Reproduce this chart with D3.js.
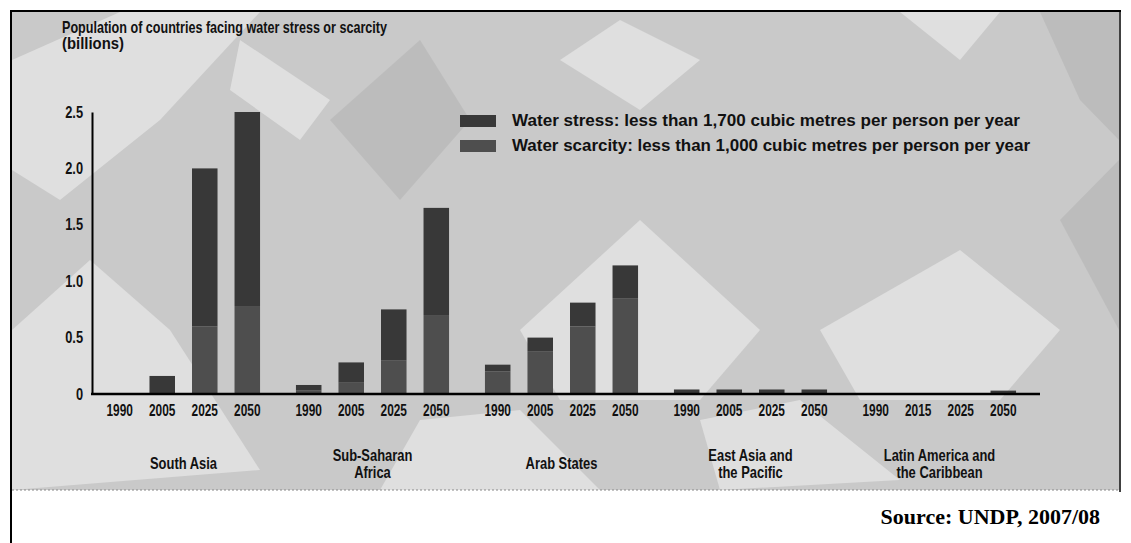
<!DOCTYPE html>
<html><head><meta charset="utf-8">
<script src="https://cdn.jsdelivr.net/npm/d3@7"></script>
<style>body{margin:0;background:#fff}svg{display:block}</style>
</head><body>
<svg id="c" width="1131" height="543"></svg>
<script>
const regions = ["South Asia","Sub-Saharan Africa","Arab States","East Asia and the Pacific","Latin America and the Caribbean"];
const regionLines = [["South Asia"],["Sub-Saharan","Africa"],["Arab States"],["East Asia and","the Pacific"],["Latin America and","the Caribbean"]];
const years = ["1990","2005","2025","2050"];
const yearLabels = [["1990","2005","2025","2050"],["1990","2005","2025","2050"],["1990","2005","2025","2050"],["1990","2005","2025","2050"],["1990","2015","2025","2050"]];
// billions, per region, per year
const scarcity = [[0,0,0.6,0.78],[0.03,0.1,0.3,0.7],[0.2,0.38,0.6,0.85],[0,0,0,0],[0,0,0,0]];
const stress = [[0,0.16,1.4,1.72],[0.05,0.18,0.45,0.95],[0.06,0.12,0.21,0.29],[0.04,0.04,0.04,0.04],[0,0,0,0.03]];
const yTicks = [0,0.5,1.0,1.5,2.0,2.5];
const yTickLabels = ["0","0.5","1.0","1.5","2.0","2.5"];
const title = ["Population of countries facing water stress or scarcity","(billions)"];
const legendItems = [["stress","Water stress: less than 1,700 cubic metres per person per year"],["scarcity","Water scarcity: less than 1,000 cubic metres per person per year"]];
const source = "Source: UNDP, 2007/08";

const font = "'Liberation Sans',Arial,sans-serif";
const colors = {stress:"#383838", scarcity:"#4e4e4e"};
const svg = d3.select("#c");

function narrow(sel, factor){
  sel.each(function(){
    const w = this.getComputedTextLength();
    d3.select(this).attr("textLength", w*factor).attr("lengthAdjust","spacingAndGlyphs");
  });
}

// background panel
const panel = svg.append("g");
panel.append("rect").attr("x",12).attr("y",12).attr("width",1107).attr("height",478).attr("fill","#c9c9c9");
const whites = [
 [[12,60],[120,12],[260,12],[160,120],[60,200],[12,170]],
 [[12,330],[90,260],[170,330],[260,470],[12,490]],
 [[520,330],[640,220],[760,330],[700,400],[560,400]],
 [[240,40],[330,100],[300,140],[230,90]],
 [[820,330],[960,250],[1060,330],[1000,400],[860,400]],
 [[560,60],[620,20],[700,60],[640,110]],
 [[700,420],[800,400],[900,480],[720,490]],
 [[420,420],[520,410],[600,490],[380,490]],
 [[900,12],[1000,12],[960,60]]
];
panel.selectAll("polygon.w").data(whites).join("polygon").attr("class","w")
 .attr("points",d=>d.map(p=>p.join(",")).join(" ")).attr("fill","#f0f0f0").attr("opacity",0.55);
const darks = [[[1040,12],[1119,12],[1119,140],[1080,100]],[[1060,220],[1119,160],[1119,330]],[[330,120],[420,40],[470,120],[400,200]]];
panel.selectAll("polygon.d").data(darks).join("polygon").attr("class","d")
 .attr("points",d=>d.map(p=>p.join(",")).join(" ")).attr("fill","#b0b0b0").attr("opacity",0.5);

// frame
svg.append("line").attr("x1",10).attr("x2",1121).attr("y1",11).attr("y2",11).attr("stroke","#000").attr("stroke-width",2);
svg.append("line").attr("x1",11).attr("x2",11).attr("y1",10).attr("y2",543).attr("stroke","#000").attr("stroke-width",2);
svg.append("line").attr("x1",1120).attr("x2",1120).attr("y1",10).attr("y2",492).attr("stroke","#000").attr("stroke-width",1.5);
svg.append("line").attr("x1",12).attr("x2",1119).attr("y1",490).attr("y2",490).attr("stroke","#888").attr("stroke-width",1).attr("stroke-dasharray","2,2");

// scales
const y = d3.scaleLinear().domain([0,2.5]).range([394,112]);
const x0 = d3.scaleBand().domain(regions).range([89,1034]).paddingInner(0.1).paddingOuter(0.05);
const x1 = d3.scaleBand().domain(years).range([0,x0.bandwidth()]).paddingInner(0.4).paddingOuter(0.2);

// title
svg.append("g").selectAll("text").data(title).join("text")
 .attr("x",62).attr("y",(d,i)=>33+i*16).attr("font-family",font).attr("font-weight","bold")
 .attr("font-size",16.5).attr("fill","#111").text(d=>d)
 .attr("textLength",(d,i)=>i===0?325:62).attr("lengthAdjust","spacingAndGlyphs");

// bars
const data = [];
regions.forEach((r,ri)=>years.forEach((yr,yi)=>{
  const sc = scarcity[ri][yi], st = stress[ri][yi];
  data.push({r,yr,key:"scarcity",y0:0,y1:sc});
  data.push({r,yr,key:"stress",y0:sc,y1:sc+st});
}));
svg.append("g").selectAll("rect").data(data.filter(d=>d.y1>d.y0)).join("rect")
 .attr("x",d=>x0(d.r)+x1(d.yr)).attr("width",x1.bandwidth())
 .attr("y",d=>y(d.y1)).attr("height",d=>y(d.y0)-y(d.y1))
 .attr("fill",d=>colors[d.key]);

// y axis
const ya = svg.append("g").attr("transform","translate(92,0)")
 .call(d3.axisLeft(y).tickValues(yTicks).tickFormat((d,i)=>yTickLabels[i]).tickSize(0).tickPadding(9));
ya.select(".domain").attr("stroke","#000").attr("stroke-width",2);
ya.selectAll("text").attr("font-family",font).attr("font-weight","bold").attr("font-size",16).attr("fill","#111");
narrow(ya.selectAll("text"),0.8);

// x baseline
svg.append("line").attr("x1",91).attr("x2",1040).attr("y1",y(0)).attr("y2",y(0)).attr("stroke","#000").attr("stroke-width",2.5);

// year labels and region labels
regions.forEach((r,ri)=>{
  const yl = svg.append("g").selectAll("text").data(years).join("text")
   .attr("x",d=>x0(r)+x1(d)+x1.bandwidth()/2).attr("y",416).attr("text-anchor","middle")
   .attr("font-family",font).attr("font-weight","bold").attr("font-size",16.5).attr("fill","#111")
   .text((d,i)=>yearLabels[ri][i]);
  narrow(yl,0.72);
  const lines = regionLines[ri];
  const rl = svg.append("g").selectAll("text").data(lines).join("text")
   .attr("x",x0(r)+x0.bandwidth()/2).attr("y",(d,i)=>(lines.length===1?469:461)+i*17).attr("text-anchor","middle")
   .attr("font-family",font).attr("font-weight","bold").attr("font-size",17).attr("fill","#111").text(d=>d);
  narrow(rl,0.76);
});

// legend
const lg = svg.append("g");
legendItems.forEach(([k,t],i)=>{
  const yy = 121 + i*25;
  lg.append("rect").attr("x",460).attr("y",yy-6).attr("width",36).attr("height",12).attr("fill",colors[k]);
  lg.append("text").attr("x",512).attr("y",yy+5).attr("font-family",font).attr("font-weight","bold")
   .attr("font-size",16).attr("fill","#111").text(t)
   .attr("textLength",i===0?508:518).attr("lengthAdjust","spacingAndGlyphs");
});

// source
svg.append("text").attr("x",1100).attr("y",524).attr("text-anchor","end")
 .attr("font-family","'Liberation Serif','DejaVu Serif',serif").attr("font-weight","bold").attr("font-size",22)
 .attr("fill","#000").text(source);
</script>
</body></html>
